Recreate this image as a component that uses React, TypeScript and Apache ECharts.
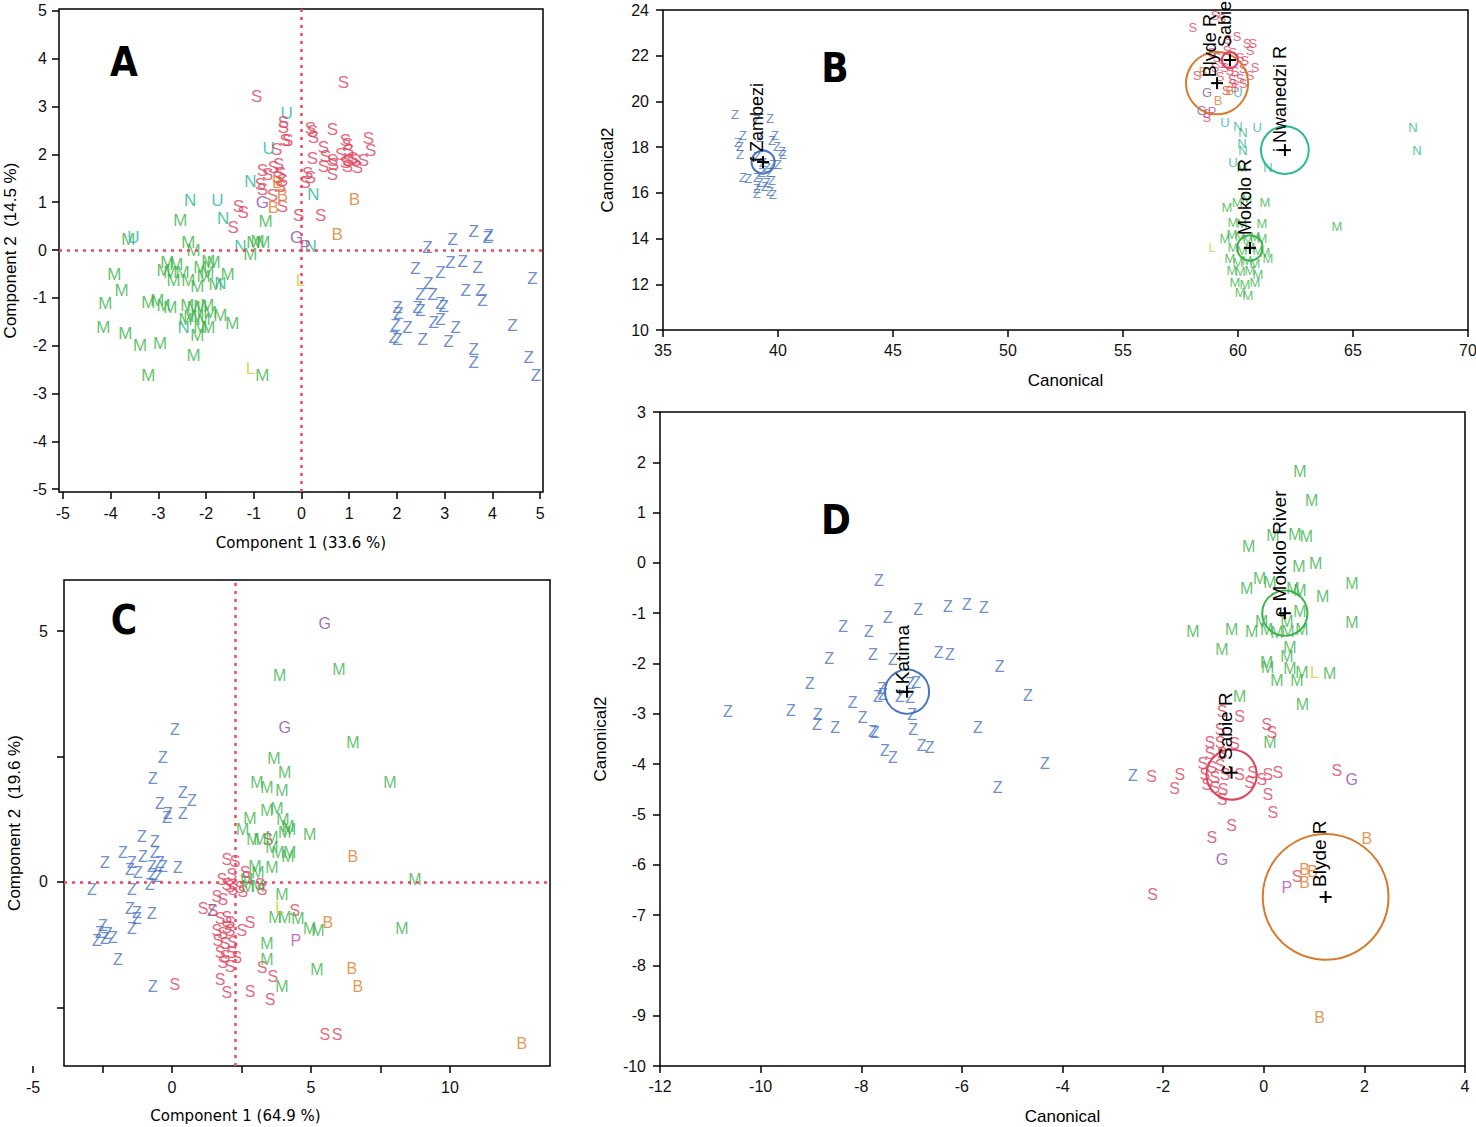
import React, { useEffect, useRef } from 'react';
import * as echarts from 'echarts';

const FONT = "'Liberation Sans', Arial, sans-serif";
const COLORS: Record<string, string> = {
  Z: '#4672c2', S: '#e0415b', M: '#3bb24a', N: '#22b48e', U: '#1eb2be',
  B: '#dd7b2b', G: '#8a4caa', L: '#cccc2a', P: '#b24db5',
};

// ---------- Panel A (PCA) ----------
const A_TICKS = [-5, -4, -3, -2, -1, 0, 1, 2, 3, 4, 5];
const A_Z = [[2.64,0.06],[3.17,0.21],[3.61,0.38],[3.90,0.27],[3.92,0.31],[2.39,-0.38],[2.91,-0.46],[3.12,-0.27],[3.38,-0.25],[3.69,-0.36],[4.84,-0.59],[2.66,-0.69],[2.49,-0.94],[2.75,-0.94],[3.44,-0.84],[3.75,-0.84],[3.79,-1.05],[2.01,-1.21],[2.03,-1.32],[2.43,-1.21],[2.49,-1.26],[2.91,-1.11],[2.98,-1.19],[1.97,-1.57],[2.22,-1.61],[2.77,-1.51],[2.91,-1.46],[3.23,-1.63],[1.93,-1.82],[2.01,-1.88],[2.54,-1.88],[3.08,-1.92],[3.61,-2.09],[3.61,-2.36],[4.42,-1.57],[4.76,-2.24],[4.91,-2.62]];
const A_S = [[-0.94,3.20],[0.88,3.51],[-0.38,2.66],[-0.29,2.30],[-0.52,2.11],[0.19,2.55],[0.23,2.47],[0.25,2.36],[0.65,2.51],[0.46,2.15],[0.92,2.30],[0.96,2.20],[0.99,2.09],[1.40,2.34],[1.45,2.09],[0.23,1.92],[0.50,1.95],[0.46,1.74],[0.65,1.88],[0.67,1.78],[0.65,1.57],[0.92,1.82],[0.99,1.88],[1.07,1.92],[1.13,1.88],[1.30,1.88],[0.96,1.74],[0.13,1.61],[0.19,1.51],[0.08,1.42],[-0.06,0.73],[0.40,0.73],[-0.38,2.57],[-0.34,2.30],[-0.82,1.67],[-0.71,1.57],[-0.59,1.72],[-0.48,1.78],[-0.44,1.61],[-0.40,1.46],[-0.86,1.36],[-0.82,1.26],[-0.50,1.51],[-0.44,1.32],[-0.40,0.90],[-1.32,0.90],[-1.22,0.79],[-1.43,0.48],[1.17,1.72],[0.82,1.99],[-0.61,1.15]];
const A_M = [[-3.63,0.21],[-2.54,0.61],[-0.75,0.59],[-2.37,0.15],[-2.26,0.00],[-1.01,0.15],[-0.80,0.15],[-1.07,-0.10],[-3.92,-0.52],[-3.77,-0.84],[-4.11,-1.11],[-4.15,-1.61],[-3.69,-1.74],[-3.38,-1.99],[-2.96,-1.95],[-3.21,-1.09],[-2.81,-0.27],[-2.75,-0.46],[-2.89,-0.42],[-2.68,-0.63],[-2.49,-0.48],[-2.37,-0.63],[-2.12,-0.36],[-1.95,-0.25],[-1.84,-0.27],[-2.05,-0.56],[-2.18,-0.77],[-1.97,-0.48],[-1.55,-0.52],[-2.89,-1.15],[-2.75,-1.21],[-2.39,-1.15],[-2.26,-1.21],[-2.12,-1.19],[-1.97,-1.15],[-2.33,-1.40],[-2.18,-1.40],[-2.05,-1.46],[-1.95,-1.61],[-1.70,-1.36],[-1.45,-1.53],[-2.18,-1.78],[-2.12,-1.61],[-2.26,-2.20],[-3.21,-2.62],[-0.82,-2.62],[-2.62,-0.31],[-1.80,-0.73],[-2.43,-1.46],[-1.91,-1.30],[-3.02,-1.05],[-0.92,0.17]];
const A_N = [[-2.33,1.03],[-1.07,1.44],[-1.64,0.65],[0.25,1.17],[-1.28,0.08],[0.19,0.08],[-1.70,-0.69],[-2.47,-1.61]];
const A_U = [[-0.31,2.85],[-0.69,2.13],[-1.76,1.03],[-3.52,0.27]];
const A_B = [[-0.50,1.42],[-0.40,1.15],[-0.59,0.88],[1.11,1.05],[0.75,0.33]];
const A_G = [[-0.82,1.00],[-0.10,0.27]];
const A_P = [[0.08,0.08]];
const A_L = [[-0.02,-0.63],[-1.07,-2.47]];

// ---------- Panel B (canonical, all rivers) ----------
const B_Z = [[38.13,19.41],[39.09,19.19],[39.65,19.27],[38.48,18.53],[38.26,18.22],[38.35,18.01],[39.22,18.44],[39.87,18.53],[39.74,18.31],[39.96,18.01],[40.17,17.79],[40.22,17.66],[38.35,17.66],[39.09,17.57],[39.35,17.31],[39.52,17.13],[39.78,17.22],[40.0,17.22],[38.48,16.69],[38.70,16.65],[39.09,16.69],[39.22,16.47],[39.52,16.47],[39.74,16.56],[39.09,16.21],[39.43,16.26],[39.09,15.99],[39.65,16.04],[39.78,15.91],[39.30,16.91],[39.65,16.91]];
const B_S = [[58.04,23.25],[59.0,23.78],[59.30,23.65],[59.96,22.82],[60.39,22.55],[60.65,22.55],[60.52,22.25],[60.74,21.50],[59.52,22.25],[59.78,22.12],[60.09,21.94],[60.30,21.81],[59.09,21.94],[59.30,21.68],[59.43,21.50],[59.65,21.37],[59.87,21.29],[59.22,21.07],[59.74,20.94],[60.09,21.02],[60.22,20.80],[58.22,21.15],[58.65,19.49],[59.78,20.80],[59.87,20.59],[58.87,22.12],[59.0,21.50],[59.57,22.69],[60.22,21.46],[60.52,21.15],[59.48,20.50],[58.65,19.30]];
const B_M = [[59.52,15.38],[59.96,15.56],[60.39,15.77],[61.17,15.60],[59.78,14.72],[60.17,14.68],[61.04,14.68],[64.30,14.51],[60.17,17.13],[59.43,14.02],[59.74,14.16],[60.09,14.07],[60.43,13.94],[60.74,14.11],[61.04,14.02],[59.78,13.59],[60.17,13.50],[60.52,13.63],[60.87,13.50],[61.17,13.41],[59.65,13.15],[60.0,12.97],[60.39,13.06],[60.74,12.93],[61.30,13.15],[59.74,12.62],[60.09,12.54],[60.52,12.62],[60.87,12.41],[59.87,12.06],[60.30,11.97],[60.74,12.10],[60.09,11.62],[60.43,11.49]];
const B_N = [[60.0,18.92],[60.22,18.66],[60.17,18.18],[60.22,17.87],[61.30,17.09],[67.61,18.84],[67.78,17.87]];
const B_U = [[59.43,19.06],[60.83,18.84],[60.0,20.41],[59.78,17.31]];
const B_B = [[58.48,21.29],[59.13,20.06],[59.65,20.50]];
const B_G = [[58.65,20.37],[58.43,19.62]];
const B_P = [[58.87,19.54]];
const B_L = [[58.87,13.63]];
const B_CENTROIDS = [
  { name: 'f Zambezi', x: 39.35, y: 17.35, r: 0.5, color: '#4672c2' },
  { name: 'Blyde R', x: 59.09, y: 20.80, r: 1.35, color: '#d9792a' },
  { name: 'Sabie R', x: 59.65, y: 21.81, r: 0.35, color: '#e0415b' },
  { name: 'i Nwanedzi R', x: 62.04, y: 17.87, r: 1.04, color: '#2bba93' },
  { name: 'Mokolo R', x: 60.52, y: 13.59, r: 0.55, color: '#3bb24a' },
];

// ---------- Panel C (PCA, southern rivers) ----------
const C_XTICKS = [-5, -2.5, 0, 2.5, 5, 7.5, 10];
const C_XLABELS = [-5, 0, 5, 10];
const C_YTICKS = [-2.5, 0, 2.5, 5];
const C_YLABELS = [0, 5];
const C_Z = [[0.11,3.03],[-0.32,2.49],[-0.68,2.07],[0.40,1.79],[0.72,1.63],[-0.43,1.57],[-0.14,1.37],[-0.18,1.29],[0.40,1.37],[-1.08,0.90],[-0.61,0.80],[-2.41,0.38],[-1.76,0.58],[-1.44,0.38],[-1.04,0.50],[-0.61,0.58],[-0.43,0.38],[-0.72,0.30],[-0.32,0.30],[0.22,0.28],[-1.51,0.24],[-1.22,0.18],[-0.68,0.14],[-0.50,0.10],[-2.88,-0.16],[-1.44,-0.16],[-0.79,-0.06],[-1.51,-0.52],[-1.26,-0.60],[-0.72,-0.62],[-1.26,-0.72],[-2.48,-0.86],[-2.59,-1.00],[-2.30,-1.02],[-1.44,-0.92],[-2.12,-1.10],[-2.41,-1.12],[-2.70,-1.16],[-1.94,-1.55],[-0.68,-2.09],[1.44,-0.56]];
const C_S = [[0.11,-2.05],[3.45,0.84],[1.98,0.44],[2.27,0.40],[2.63,0.18],[2.70,0.08],[1.98,-0.06],[2.09,-0.10],[2.19,-0.16],[2.45,-0.12],[2.55,-0.20],[3.17,-0.06],[3.24,-0.16],[1.62,-0.30],[1.83,-0.36],[1.12,-0.52],[1.47,-0.56],[1.73,-0.72],[1.98,-0.70],[2.09,-0.80],[1.62,-0.96],[1.83,-1.02],[1.98,-0.90],[2.09,-0.96],[2.52,-0.96],[2.81,-0.80],[1.65,-1.16],[1.91,-1.22],[2.19,-1.20],[1.73,-1.41],[1.91,-1.49],[2.16,-1.41],[2.34,-1.51],[1.83,-1.61],[2.09,-1.69],[1.73,-1.95],[1.98,-2.21],[2.81,-2.19],[3.53,-2.35],[3.24,-1.71],[3.63,-1.89],[4.42,-0.56],[5.50,-3.05],[5.94,-3.05],[1.80,0.04],[2.16,0.14]];
const C_M = [[3.88,4.12],[6.01,4.24],[6.51,2.79],[7.84,1.99],[3.67,2.47],[4.06,2.19],[3.06,1.99],[3.42,1.89],[3.96,1.83],[3.42,1.43],[3.78,1.47],[2.81,1.27],[3.99,1.24],[4.17,1.10],[2.55,1.04],[2.91,0.84],[3.17,0.84],[3.60,0.88],[4.06,0.98],[4.24,1.04],[4.96,0.94],[3.60,0.68],[3.81,0.58],[4.17,0.50],[4.24,0.58],[2.99,0.30],[3.60,0.28],[3.09,0.18],[2.70,0.04],[2.73,-0.10],[3.09,-0.10],[3.96,-0.26],[3.71,-0.70],[4.06,-0.70],[4.53,-0.72],[4.96,-0.92],[5.25,-0.96],[8.27,-0.92],[8.74,0.04],[3.42,-1.22],[3.42,-1.55],[5.22,-1.75],[3.96,-2.09]];
const C_G = [[5.50,5.16],[4.06,3.07]];
const C_B = [[6.51,0.50],[5.61,-0.80],[6.47,-1.73],[6.69,-2.09],[12.59,-3.23]];
const C_P = [[4.46,-1.16]];
const C_L = [[3.88,-0.50]];
const C_XMEAN = 2.27;

// ---------- Panel D (canonical, southern rivers) ----------
const D_Z = [[-7.65,-0.34],[-6.87,-0.93],[-6.28,-0.87],[-5.90,-0.83],[-5.56,-0.89],[-7.47,-1.09],[-8.36,-1.27],[-7.85,-1.37],[-8.64,-1.89],[-7.77,-1.83],[-7.37,-1.91],[-6.46,-1.79],[-6.24,-1.83],[-5.25,-2.05],[-9.02,-2.39],[-6.91,-2.37],[-4.69,-2.64],[-10.65,-2.96],[-9.40,-2.94],[-8.86,-3.02],[-8.88,-3.22],[-8.52,-3.28],[-8.17,-2.78],[-7.67,-2.66],[-7.57,-2.62],[-7.59,-2.49],[-7.23,-2.66],[-7.03,-2.68],[-7.03,-2.39],[-7.97,-3.08],[-7.77,-3.36],[-7.73,-3.38],[-6.99,-3.02],[-6.97,-3.32],[-6.80,-3.62],[-6.64,-3.66],[-7.53,-3.72],[-7.37,-3.86],[-5.68,-3.28],[-4.35,-3.98],[-5.29,-4.47],[-2.60,-4.23]];
const D_S = [[-0.83,-2.96],[-0.48,-3.06],[0.06,-3.22],[0.16,-3.38],[-0.87,-3.32],[-1.07,-3.56],[-0.87,-3.56],[-0.58,-3.58],[-1.07,-3.78],[-0.83,-3.78],[-1.21,-3.98],[-1.03,-4.06],[-0.87,-4.02],[-1.17,-4.21],[-0.97,-4.27],[-0.77,-4.21],[-0.48,-4.21],[-0.22,-4.16],[0.08,-4.21],[0.28,-4.16],[-0.28,-4.37],[-0.04,-4.31],[-1.13,-4.41],[-0.97,-4.47],[-0.81,-4.51],[-0.83,-4.71],[0.08,-4.61],[0.18,-4.97],[-2.23,-4.25],[-1.67,-4.21],[-1.77,-4.49],[1.45,-4.12],[-0.64,-5.21],[-1.03,-5.45],[-2.21,-6.60],[0.66,-6.24]];
const D_M = [[0.72,1.81],[0.95,1.25],[0.62,0.56],[0.85,0.52],[0.18,0.54],[-0.30,0.32],[0.70,-0.08],[1.03,-0.02],[1.75,-0.40],[-0.34,-0.50],[-0.08,-0.30],[0.12,-0.38],[0.58,-0.50],[0.72,-0.54],[1.17,-0.66],[1.75,-1.19],[-1.41,-1.37],[-0.64,-1.33],[-0.24,-1.37],[-0.04,-1.17],[0.06,-1.33],[0.26,-1.39],[0.46,-1.17],[0.72,-0.97],[0.76,-1.33],[0.48,-1.37],[-0.83,-1.73],[0.52,-1.69],[0.46,-1.87],[0.06,-1.97],[0.08,-2.07],[0.52,-2.09],[0.76,-2.17],[0.26,-2.33],[0.66,-2.33],[1.31,-2.19],[-0.48,-2.66],[0.77,-2.82],[0.12,-3.56]];
const D_G = [[1.75,-4.31],[-0.83,-5.90]];
const D_B = [[2.05,-5.47],[0.81,-6.10],[0.97,-6.14],[0.81,-6.36],[1.11,-9.03]];
const D_P = [[0.46,-6.46]];
const D_L = [[1.01,-2.17]];
const D_CENTROIDS = [
  { name: 'f Katima', x: -7.09, y: -2.56, r: 0.44, color: '#4672c2' },
  { name: 'e Mokolo River', x: 0.42, y: -1.0, r: 0.45, color: '#3bb24a' },
  { name: 'c Sabie R', x: -0.64, y: -4.17, r: 0.5, color: '#e0415b' },
  { name: 'Blyde R', x: 1.23, y: -6.64, r: 1.25, color: '#d9792a' },
];

// label nudges in px: [dx, lift above centroid]
const NUDGE: Record<string, [number, number]> = {
  'f Zambezi': [-6, 0], 'Blyde R': [-7, 6], 'Sabie R': [-5, 13], 'i Nwanedzi R': [-5, -2], 'Mokolo R': [-5, 13],
  'f Katima': [-5, -3], 'e Mokolo River': [-5, -4], 'c Sabie R': [-6, -2],
};
const NUDGE_D_BLYDE: [number, number] = [-6, 10];

function letterSeries(idx: number, groups: [string, number[][]][], fontSize: number) {
  return groups.map(([letter, pts]) => ({
    type: 'scatter', xAxisIndex: idx, yAxisIndex: idx, data: pts, symbolSize: 1, silent: true,
    itemStyle: { color: 'rgba(0,0,0,0)' },
    label: { show: true, position: 'inside', formatter: letter, color: COLORS[letter], fontSize, fontFamily: FONT },
    z: 3,
  }));
}

function centroidSeries(idx: number, list: any[], fontSize: number, panelD: boolean) {
  return {
    type: 'custom', xAxisIndex: idx, yAxisIndex: idx, silent: true, z: 6, clip: false,
    data: list.map((c) => [c.x, c.y, c.r]),
    encode: { x: 0, y: 1 },
    renderItem: (params: any, api: any) => {
      const c = list[params.dataIndex];
      const p = api.coord([api.value(0), api.value(1)]);
      const r = api.size([api.value(2), 0])[0];
      const n = panelD && c.name === 'Blyde R' ? NUDGE_D_BLYDE : (NUDGE[c.name] || [-6, 0]);
      return {
        type: 'group',
        children: [
          { type: 'circle', shape: { cx: p[0], cy: p[1], r }, style: { fill: 'none', stroke: c.color, lineWidth: 2 } },
          { type: 'line', shape: { x1: p[0] - 6, y1: p[1], x2: p[0] + 6, y2: p[1] }, style: { stroke: '#000', lineWidth: 2 } },
          { type: 'line', shape: { x1: p[0], y1: p[1] - 6, x2: p[0], y2: p[1] + 6 }, style: { stroke: '#000', lineWidth: 2 } },
          {
            type: 'text', x: p[0] + n[0], y: p[1] - n[1], rotation: Math.PI / 2,
            style: { text: c.name, fill: '#000', fontSize, fontFamily: FONT, align: 'left', verticalAlign: 'middle' },
          },
        ],
      };
    },
  };
}

const TICK = { show: true, inside: false, length: 7, lineStyle: { color: '#000', width: 1.5 } };
const LAB = { color: '#111', fontSize: 16, fontFamily: FONT };
const NAME = { color: '#000', fontSize: 17, fontFamily: FONT };
const NAME_DV = { color: '#000', fontSize: 15, fontFamily: "'DejaVu Sans', sans-serif" };
const DOT = { color: '#f2465f', type: [3, 5] as any, width: 2.5, cap: 'butt' };

function buildOption(): any {
  const gridBase = { show: true, borderColor: '#000', borderWidth: 1.5, containLabel: false, outerBoundsMode: 'none' };
  const axBase = { type: 'value', splitLine: { show: false }, axisLine: { show: false, onZero: false } };
  return {
    animation: false,
    grid: [
      { ...gridBase, left: 59, top: 9, width: 484, height: 483 },
      { ...gridBase, left: 663, top: 10, width: 805, height: 320 },
      { ...gridBase, left: 64, top: 580, width: 486, height: 486 },
      { show: false, left: 33, top: 1065, width: 517, height: 1, containLabel: false, outerBoundsMode: 'none' },
      { ...gridBase, left: 660, top: 412, width: 805, height: 654 },
    ],
    xAxis: [
      { ...axBase, gridIndex: 0, min: -5.08, max: 5.06, axisTick: { ...TICK, customValues: A_TICKS }, axisLabel: { ...LAB, margin: 13, customValues: A_TICKS },
        name: 'Component 1 (33.6 %)', nameLocation: 'middle', nameGap: 43, nameTextStyle: NAME_DV },
      { ...axBase, gridIndex: 1, min: 35, max: 70, interval: 5, axisTick: TICK, axisLabel: { ...LAB, margin: 12 },
        name: 'Canonical', nameLocation: 'middle', nameGap: 42, nameTextStyle: NAME },
      { ...axBase, gridIndex: 2, min: -3.88, max: 13.6, axisTick: { show: false }, axisLabel: { show: false } },
      { ...axBase, gridIndex: 3, min: -5, max: 13.6, axisTick: { ...TICK, customValues: C_XTICKS }, axisLabel: { ...LAB, margin: 13, customValues: C_XLABELS },
        name: 'Component 1 (64.9 %)', nameLocation: 'middle', nameGap: 42, nameTextStyle: { ...NAME_DV, padding: [0, 112, 0, 0] } },
      { ...axBase, gridIndex: 4, min: -12, max: 4, interval: 2, axisTick: TICK, axisLabel: { ...LAB, margin: 12 },
        name: 'Canonical', nameLocation: 'middle', nameGap: 42, nameTextStyle: NAME },
    ],
    yAxis: [
      { ...axBase, gridIndex: 0, min: -5.06, max: 5.04, axisTick: { ...TICK, customValues: A_TICKS }, axisLabel: { ...LAB, margin: 12, customValues: A_TICKS },
        name: 'Component 2  (14.5 %)', nameLocation: 'middle', nameGap: 40, nameTextStyle: NAME },
      { ...axBase, gridIndex: 1, min: 10, max: 24, interval: 2, axisTick: TICK, axisLabel: { ...LAB, margin: 14 },
        name: 'Canonical2', nameLocation: 'middle', nameGap: 47, nameTextStyle: NAME },
      { ...axBase, gridIndex: 2, min: -3.67, max: 6.02, axisTick: { ...TICK, customValues: C_YTICKS }, axisLabel: { ...LAB, margin: 16, customValues: C_YLABELS },
        name: 'Component 2  (19.6 %)', nameLocation: 'middle', nameGap: 41, nameTextStyle: NAME },
      { ...axBase, gridIndex: 3, show: false, min: 0, max: 1 },
      { ...axBase, gridIndex: 4, min: -10, max: 3, interval: 1, axisTick: TICK, axisLabel: { ...LAB, margin: 14 },
        name: 'Canonical2', nameLocation: 'middle', nameGap: 51, nameTextStyle: NAME },
    ],
    graphic: [
      ['A', 124, 62], ['B', 835, 68], ['C', 124, 620], ['D', 836, 520],
    ].map(([t, x, y]) => ({
      type: 'text', x, y, z: 10,
      style: { text: t, fill: '#000', fontSize: 40, fontWeight: 'bold', fontFamily: "'Liberation Sans Narrow', 'DejaVu Sans Condensed', 'Roboto', sans-serif", align: 'center', verticalAlign: 'middle' },
    })),
    series: [
      { type: 'scatter', xAxisIndex: 0, yAxisIndex: 0, data: [], silent: true, z: 1,
        markLine: { silent: true, symbol: 'none', label: { show: false }, lineStyle: DOT, data: [{ xAxis: 0 }, { yAxis: 0 }] } },
      { type: 'scatter', xAxisIndex: 2, yAxisIndex: 2, data: [], silent: true, z: 1,
        markLine: { silent: true, symbol: 'none', label: { show: false }, lineStyle: DOT, data: [{ xAxis: C_XMEAN }, { yAxis: 0 }] } },
      ...letterSeries(0, [['M', A_M], ['N', A_N], ['U', A_U], ['Z', A_Z], ['S', A_S], ['B', A_B], ['G', A_G], ['P', A_P], ['L', A_L]], 17),
      ...letterSeries(1, [['M', B_M], ['N', B_N], ['U', B_U], ['Z', B_Z], ['S', B_S], ['B', B_B], ['G', B_G], ['P', B_P], ['L', B_L]], 13),
      ...letterSeries(2, [['Z', C_Z], ['S', C_S], ['M', C_M], ['G', C_G], ['B', C_B], ['P', C_P], ['L', C_L]], 16),
      ...letterSeries(4, [['Z', D_Z], ['M', D_M], ['S', D_S], ['G', D_G], ['B', D_B], ['P', D_P], ['L', D_L]], 16),
      centroidSeries(1, B_CENTROIDS, 18, false),
      centroidSeries(4, D_CENTROIDS, 19, true),
    ],
  };
}

export default function App() {
  const ref = useRef<HTMLDivElement>(null);
  useEffect(() => {
    document.body.style.margin = '0';
    const chart = echarts.init(ref.current!, null, { renderer: 'svg' });
    chart.setOption(buildOption());
    return () => chart.dispose();
  }, []);
  return <div ref={ref} style={{ width: 1476, height: 1127 }} />;
}
